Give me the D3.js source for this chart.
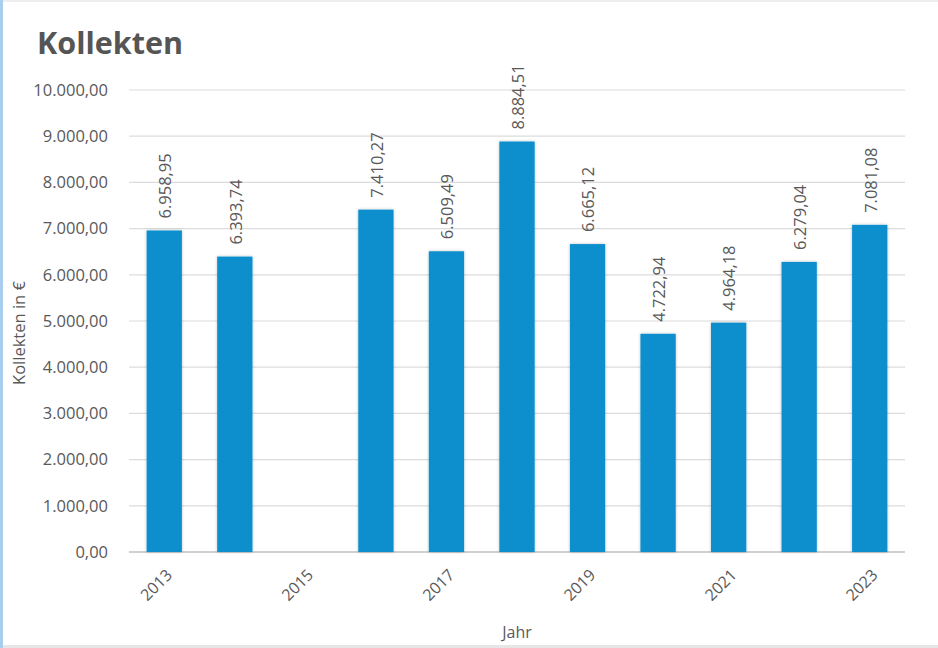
<!DOCTYPE html>
<html><head><meta charset="utf-8">
<script src="https://cdn.jsdelivr.net/npm/d3@7"></script>
<style>
body{margin:0;background:#fff;}
svg text{font-family:"Open Sans","Noto Sans",sans-serif;}
</style></head>
<body><svg id="c" width="938" height="648"></svg>
<script>
const years = ["2013","2014","2015","2016","2017","2018","2019","2020","2021","2022","2023"];
const values = [6958.95, 6393.74, null, 7410.27, 6509.49, 8884.51, 6665.12, 4722.94, 4964.18, 6279.04, 7081.08];
const yTicks = [0,1000,2000,3000,4000,5000,6000,7000,8000,9000,10000];
const xTickLabels = ["2013","2015","2017","2019","2021","2023"];

const fmt = v => {
  const p = v.toFixed(2).split(".");
  return p[0].replace(/\B(?=(\d{3})+(?!\d))/g, ".") + "," + p[1];
};

const svg = d3.select("#c");
const W=938,H=648;
svg.append("rect").attr("x",0).attr("y",0).attr("width",W).attr("height",H).attr("fill","#fff");
svg.append("line").attr("x1",0).attr("x2",W).attr("y1",1).attr("y2",1).attr("stroke","#eeeeee").attr("stroke-width",2);
svg.append("line").attr("x1",0).attr("x2",W).attr("y1",646.5).attr("y2",646.5).attr("stroke","#e6e6e6").attr("stroke-width",3);
svg.append("rect").attr("x",0).attr("y",0).attr("width",3).attr("height",H).attr("fill","#a9cdee");

const m={l:129,r:905,t:90,b:552};
const x=d3.scaleBand().domain(years).range([m.l,m.r]).paddingInner(0.5).paddingOuter(0.25);
const y=d3.scaleLinear().domain([0,10000]).range([m.b,m.t]);

const defs=svg.append("defs");
const f=defs.append("filter").attr("id","sh").attr("x","-20%").attr("y","-5%").attr("width","140%").attr("height","110%");
f.append("feDropShadow").attr("dx",0).attr("dy",0).attr("stdDeviation",1.5).attr("flood-color","#000").attr("flood-opacity",0.25);

// grid
const g=svg.append("g");
g.selectAll("line.grid").data(yTicks).join("line")
 .attr("x1",m.l).attr("x2",m.r).attr("y1",d=>y(d)).attr("y2",d=>y(d))
 .attr("stroke",(d)=>d===0?"#d0d0d0":"#dcdcdc").attr("stroke-width",d=>d===0?2:1.2);

// y labels
svg.append("g").selectAll("text").data(yTicks).join("text")
 .attr("x",108).attr("y",d=>y(d)).attr("dy","0.35em").attr("text-anchor","end")
 .attr("font-size",16.5).attr("fill","#595959").text(d=>fmt(d));

// bars
const data=years.map((yr,i)=>({yr,v:values[i]})).filter(d=>d.v!=null);
svg.append("g").selectAll("rect").data(data).join("rect")
 .attr("x",d=>x(d.yr)).attr("width",x.bandwidth())
 .attr("y",d=>y(d.v)).attr("height",d=>y(0)-y(d.v))
 .attr("fill","#0a8fce").attr("filter","url(#sh)");

// value labels
svg.append("g").selectAll("text").data(data).join("text")
 .attr("transform",d=>`translate(${x(d.yr)+x.bandwidth()/2+1},${y(d.v)-12}) rotate(-90)`)
 .attr("dy","0.35em").attr("text-anchor","start").attr("font-size",16.5).attr("fill","#595959")
 .text(d=>fmt(d.v));

// x labels
svg.append("g").selectAll("text").data(xTickLabels).join("text")
 .attr("transform",d=>`translate(${x(d)+x.bandwidth()/2+5},${572}) rotate(-45)`)
 .attr("text-anchor","end").attr("dy","0.35em").attr("font-size",16).attr("fill","#595959").text(d=>d);

// axis titles
svg.append("text").attr("x",(m.l+m.r)/2).attr("y",638).attr("text-anchor","middle")
 .attr("font-size",16).attr("fill","#595959").text("Jahr");
svg.append("text").attr("transform",`translate(25,${(m.t+m.b)/2+12}) rotate(-90)`).attr("text-anchor","middle")
 .attr("font-size",16.5).attr("fill","#595959").text("Kollekten in €");

// title
svg.append("text").attr("x",37).attr("y",54).attr("font-size",30.5).attr("font-weight","bold")
 .attr("fill","#555555").text("Kollekten");
</script></body></html>
